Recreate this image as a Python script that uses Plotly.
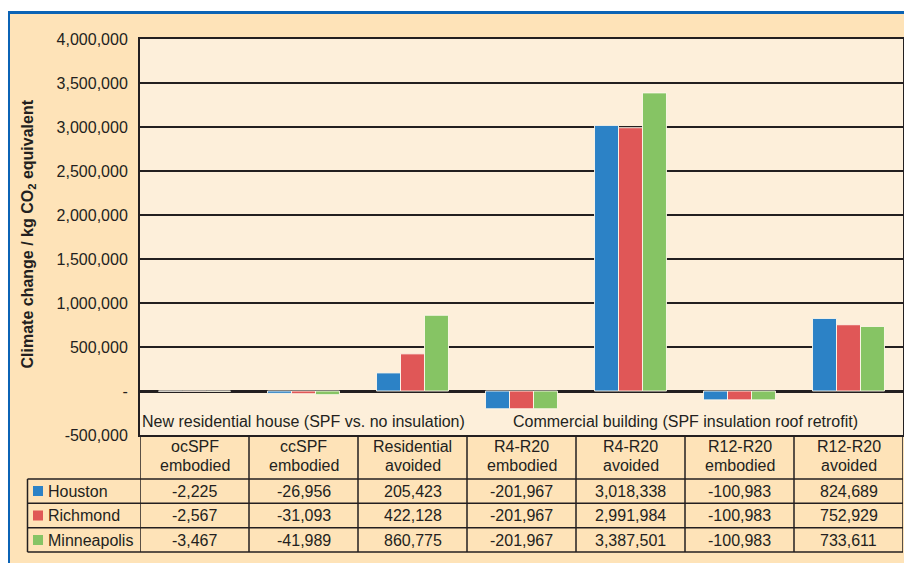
import plotly.graph_objects as go

# ---------------- data ----------------
categories = ["ocSPF embodied", "ccSPF embodied", "Residential avoided",
              "R4-R20 embodied", "R4-R20 avoided", "R12-R20 embodied", "R12-R20 avoided"]
cities = ["Houston", "Richmond", "Minneapolis"]
houston = [-2225, -26956, 205423, -201967, 3018338, -100983, 824689]
richmond = [-2567, -31093, 422128, -201967, 2991984, -100983, 752929]
minneapolis = [-3467, -41989, 860775, -201967, 3387501, -100983, 733611]
tick_vals = [-500000, 0, 500000, 1000000, 1500000, 2000000, 2500000, 3000000, 3500000, 4000000]
tick_text = ["-500,000", "-", "500,000", "1,000,000", "1,500,000", "2,000,000",
             "2,500,000", "3,000,000", "3,500,000", "4,000,000"]
group_labels = ["New residential house (SPF vs. no insulation)",
                "Commercial building (SPF insulation roof retrofit)"]
group_centers = [1, 4.5]
group_label_y = -345000
y_title = "<b>Climate change / kg CO<sub>2</sub> equivalent</b>"

# ---------------- style ----------------
W, H = 912, 563
OFF = 8  # page body margin
L, R, T, B = 132, 17, 31, 136
colors = ["#2C82C6", "#E05757", "#86C464"]
dark = "#231F20"
beige = "#FEE3B8"
light = "#FDEFDA"
blue = "#0B63B5"
FONT = "Liberation Sans, Arial, sans-serif"
FS = 16


def px_x(p):
    return (p - OFF - L) / (W - L - R)


def px_y(p):
    return (H - B - (p - OFF)) / (H - T - B)


series = [houston, richmond, minneapolis]
xs = list(range(len(categories)))

fig = go.Figure()
for name, vals, col in zip(cities, series, colors):
    fig.add_trace(go.Bar(x=xs, y=vals, name=name, marker=dict(color=col,
                         line=dict(color="rgba(255,248,235,0.9)", width=1)),
                         showlegend=False))

shapes = []
# white strip at the top and blue frame lines
shapes.append(dict(type="rect", xref="paper", yref="paper", layer="below",
                   x0=px_x(0), x1=px_x(930), y0=px_y(12), y1=px_y(0),
                   fillcolor="white", line=dict(width=0)))
shapes.append(dict(type="line", xref="paper", yref="paper", layer="below",
                   x0=px_x(7), x1=px_x(930), y0=px_y(12.5), y1=px_y(12.5),
                   line=dict(color=blue, width=3)))
shapes.append(dict(type="line", xref="paper", yref="paper", layer="below",
                   x0=px_x(8.5), x1=px_x(8.5), y0=px_y(11), y1=px_y(600),
                   line=dict(color=blue, width=3)))

# table lines
row_lines = [479, 503.3, 527.7, 552]
x_left = px_x(27.5)
for yl in row_lines:
    shapes.append(dict(type="line", xref="paper", yref="paper",
                       x0=x_left, x1=1, y0=px_y(yl), y1=px_y(yl),
                       line=dict(color=dark, width=1.5)))
shapes.append(dict(type="line", xref="paper", yref="paper",
                   x0=x_left, x1=x_left, y0=px_y(479), y1=px_y(552),
                   line=dict(color=dark, width=1.5)))
for i in range(len(categories) + 1):
    shapes.append(dict(type="line", xref="x", yref="paper",
                       x0=i - 0.5, x1=i - 0.5, y0=px_y(435), y1=px_y(552),
                       line=dict(color=dark, width=1.5)))

annotations = []
# header text
for i, c in enumerate(categories):
    top, bot = c.split(" ")
    annotations.append(dict(x=i, y=px_y(446.5), xref="x", yref="paper", text=top,
                            showarrow=False, xanchor="center", yanchor="middle",
                            font=dict(family=FONT, size=FS, color=dark)))
    annotations.append(dict(x=i, y=px_y(465), xref="x", yref="paper", text=bot,
                            showarrow=False, xanchor="center", yanchor="middle",
                            font=dict(family=FONT, size=FS, color=dark)))
# rows
row_centers = [491, 515.5, 540]
for rc, name, vals, col in zip(row_centers, cities, series, colors):
    shapes.append(dict(type="rect", xref="paper", yref="paper",
                       x0=px_x(33), x1=px_x(43), y0=px_y(rc + 5), y1=px_y(rc - 5),
                       fillcolor=col, line=dict(width=0)))
    annotations.append(dict(x=px_x(46), y=px_y(rc), xref="paper", yref="paper", text=name,
                            showarrow=False, xanchor="left", yanchor="middle",
                            font=dict(family=FONT, size=FS, color=dark)))
    for i, v in enumerate(vals):
        annotations.append(dict(x=i, y=px_y(rc), xref="x", yref="paper", text=f"{v:,}",
                                showarrow=False, xanchor="center", yanchor="middle",
                                font=dict(family=FONT, size=FS, color=dark)))
# group labels
for gl, gc in zip(group_labels, group_centers):
    annotations.append(dict(x=gc, y=group_label_y, xref="x", yref="y", text=gl,
                            showarrow=False, xanchor="center", yanchor="middle",
                            font=dict(family=FONT, size=FS, color=dark)))
# y title
annotations.append(dict(x=px_x(28), y=px_y(234.5), xref="paper", yref="paper", text=y_title,
                        textangle=-90, showarrow=False, xanchor="center", yanchor="middle",
                        font=dict(family=FONT, size=FS, color=dark)))

fig.update_layout(
    width=W, height=H, autosize=False,
    margin=dict(l=L, r=R, t=T, b=B, pad=0),
    paper_bgcolor=beige, plot_bgcolor=light,
    barmode="group", bargap=0.34, bargroupgap=0,
    font=dict(family=FONT, size=FS, color=dark),
    shapes=shapes, annotations=annotations,
    xaxis=dict(range=[-0.5, len(categories) - 0.5], showticklabels=False, showgrid=False,
               zeroline=False, showline=True, linecolor=dark, linewidth=2, mirror=True,
               ticks="", fixedrange=True),
    yaxis=dict(range=[-500000, 4000000], tickvals=tick_vals, ticktext=tick_text,
               showgrid=True, gridcolor=dark, gridwidth=1.5,
               zeroline=True, zerolinecolor=dark, zerolinewidth=2.5,
               showline=True, linecolor=dark, linewidth=2, mirror=True,
               ticks="", ticklabelstandoff=7,
               tickfont=dict(family=FONT, size=FS, color=dark), automargin=False),
)

fig.write_html("out.html")
